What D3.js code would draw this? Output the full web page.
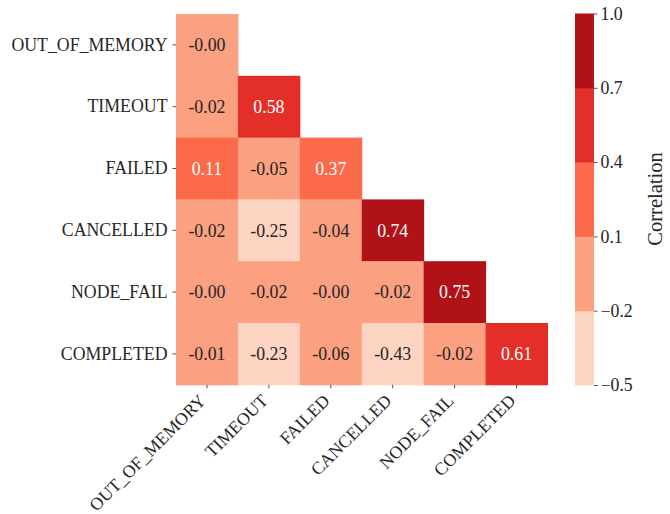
<!DOCTYPE html>
<html><head><meta charset="utf-8">
<script src="https://cdn.jsdelivr.net/npm/d3@7"></script>
<style>body{margin:0;background:#fff}svg{display:block}</style>
</head><body>
<script>
const categories = ["OUT_OF_MEMORY","TIMEOUT","FAILED","CANCELLED","NODE_FAIL","COMPLETED"];
// lower triangle rows (incl. diagonal)
const row0 = [-0.0];
const row1 = [-0.02, 0.58];
const row2 = [0.11, -0.05, 0.37];
const row3 = [-0.02, -0.25, -0.04, 0.74];
const row4 = [-0.0, -0.02, -0.0, -0.02, 0.75];
const row5 = [-0.01, -0.23, -0.06, -0.43, -0.02, 0.61];
const rows = [row0,row1,row2,row3,row4,row5];
const levels = [-0.5, -0.2, 0.1, 0.4, 0.7, 1.0];
const colorbarTicks = [-0.5, -0.2, 0.1, 0.4, 0.7, 1.0];
const palette = ["#fdd4c2","#fca082","#fb6a4a","#e32f27","#b11218"];
const cbLabel = "Correlation";

const W = 670, H = 514;
const font = "'Liberation Serif','Times New Roman',serif";
const fs = 17.8;
const ink = "#262626";

const svg = d3.select("body").append("svg").attr("width",W).attr("height",H)
  .style("font-family", font);

const x = d3.scaleBand().domain(categories).range([176, 547.5]);
const y = d3.scaleBand().domain(categories).range([14, 384.8]);
const color = d3.scaleThreshold().domain(levels.slice(1,-1)).range(palette);

const cells = [];
rows.forEach((r,i)=>r.forEach((v,j)=>cells.push({i,j,v})));

svg.append("g").selectAll("rect").data(cells).join("rect")
  .attr("x", d=>x(categories[d.j])).attr("y", d=>y(categories[d.i]))
  .attr("width", x.bandwidth()+0.5).attr("height", y.bandwidth()+0.5)
  .attr("fill", d=>color(d.v));

const fmt = v => ((v<0 || Object.is(v,-0)) ? "-" : "") + Math.abs(v).toFixed(2);
svg.append("g").selectAll("text").data(cells).join("text")
  .attr("x", d=>x(categories[d.j])+x.bandwidth()/2)
  .attr("y", d=>y(categories[d.i])+y.bandwidth()/2)
  .attr("text-anchor","middle").attr("dy","0.35em")
  .attr("font-size", fs)
  .attr("fill", d=> palette.indexOf(color(d.v))>=2 ? "#ffffff" : ink)
  .text(d=>fmt(d.v));

// y axis
const yAxis = svg.append("g").attr("transform","translate(176,0)")
  .call(d3.axisLeft(y).tickSize(3.5).tickPadding(5));
yAxis.select(".domain").remove();
yAxis.selectAll("line").attr("stroke", ink).attr("stroke-width",0.8);
yAxis.selectAll("text").attr("font-size", fs).attr("font-family", font).attr("fill", ink);

// x axis
const xAxis = svg.append("g").attr("transform","translate(0,384.8)")
  .call(d3.axisBottom(x).tickSize(3.5));
xAxis.select(".domain").remove();
xAxis.selectAll("line").attr("stroke", ink).attr("stroke-width",0.8);
xAxis.selectAll("text").attr("font-size", fs).attr("font-family", font).attr("fill", ink)
  .attr("text-anchor","end").attr("dy",null).attr("y",null)
  .attr("transform","translate(0,17) rotate(-45)");

// colorbar
const cbX = 575, cbW = 19;
const cy = d3.scaleLinear().domain([levels[0], levels[levels.length-1]]).range([385, 13.5]);
const bands = d3.range(palette.length).map(k=>({a:levels[k], b:levels[k+1], c:palette[k]}));
svg.append("g").selectAll("rect").data(bands).join("rect")
  .attr("x", cbX).attr("width", cbW)
  .attr("y", d=>cy(d.b)).attr("height", d=>cy(d.a)-cy(d.b)+0.5)
  .attr("fill", d=>d.c);
const cAxis = svg.append("g").attr("transform",`translate(${cbX+cbW},0)`)
  .call(d3.axisRight(cy).tickValues(colorbarTicks).tickSize(3.5).tickPadding(3)
    .tickFormat(v => (v<0 ? "\u2212" : "") + Math.abs(v).toFixed(1)));
cAxis.select(".domain").remove();
cAxis.selectAll("line").attr("stroke", ink).attr("stroke-width",0.8);
cAxis.selectAll("text").attr("font-size", fs).attr("font-family", font).attr("fill", ink);

svg.append("text")
  .attr("transform", `translate(662,199) rotate(-90)`)
  .attr("text-anchor","middle").attr("font-size", 20.5).attr("fill", ink)
  .text(cbLabel);
</script>
</body></html>
